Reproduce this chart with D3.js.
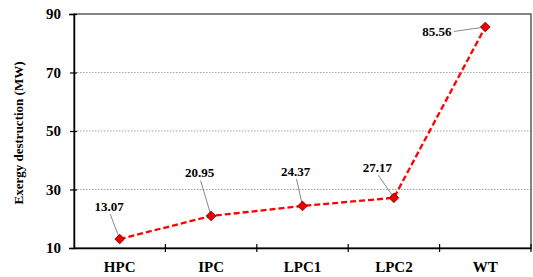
<!DOCTYPE html>
<meta charset="utf-8">
<script src="https://cdn.jsdelivr.net/npm/d3@7"></script>
<style>
body { margin: 0; background: #fff; }
text { font-family: "Liberation Serif", "Times New Roman", serif; font-weight: bold; fill: #000; }
</style>
<body>
<script>

// data
var categories = ["HPC", "IPC", "LPC1", "LPC2", "WT"];
var values = [13.07, 20.95, 24.37, 27.17, 85.56];
var yTicks = [10, 30, 50, 70, 90];
// callout label offsets (dx, dy) from each point
var labelOffsets = [[-10.5, -33], [-11.5, -43.5], [-7, -35], [-16.5, -30.5], [-48.5, 4.5]];

var width = 533, height = 277;
var margin = {top: 14, right: 2, bottom: 29, left: 74};
var serif = '"Liberation Serif", "Times New Roman", serif';

var svg = d3.select("body").append("svg")
    .attr("width", width)
    .attr("height", height);

var x = d3.scaleBand()
    .domain(categories)
    .range([margin.left, width - margin.right]);

var y = d3.scaleLinear()
    .domain([10, 90])
    .range([height - margin.bottom, margin.top]);

// grid lines
svg.append("g")
  .selectAll("line")
  .data(yTicks.filter(function(d) { return d > 10 && d < 90; }))
  .enter().append("line")
    .attr("x1", margin.left)
    .attr("x2", width - margin.right)
    .attr("y1", function(d) { return y(d); })
    .attr("y2", function(d) { return y(d); })
    .style("stroke", "#888")
    .style("stroke-width", 0.8)
    .style("stroke-dasharray", "1.5,1.5");

// plot frame
svg.append("rect")
    .attr("x", margin.left)
    .attr("y", margin.top)
    .attr("width", width - margin.right - margin.left)
    .attr("height", height - margin.bottom - margin.top)
    .style("fill", "none")
    .style("stroke", "#333")
    .style("stroke-width", 1.2);

// y axis
var yAxis = svg.append("g")
    .attr("transform", "translate(" + margin.left + ",0)")
    .call(d3.axisLeft(y).tickValues(yTicks).tickSize(5).tickPadding(8).tickFormat(d3.format("d")));
yAxis.attr("font-family", null);
yAxis.select(".domain").style("stroke", "#000").style("stroke-width", 1.5);
yAxis.selectAll(".tick line").attr("x1", -4).attr("x2", 3).style("stroke", "#000").style("stroke-width", 1.2);
yAxis.selectAll("text").style("font-size", "15px").style("font-family", serif);

// x axis
var xAxis = svg.append("g")
    .attr("transform", "translate(0," + (height - margin.bottom) + ")")
    .call(d3.axisBottom(x).tickSize(0).tickPadding(13));
xAxis.attr("font-family", null);
xAxis.select(".domain").style("stroke", "#000").style("stroke-width", 1.5);
xAxis.selectAll("text").style("font-size", "15px").style("font-family", serif);

// tick marks between categories
svg.append("g")
  .selectAll("line")
  .data(categories)
  .enter().append("line")
    .attr("x1", function(d) { return x(d) + x.bandwidth(); })
    .attr("x2", function(d) { return x(d) + x.bandwidth(); })
    .attr("y1", height - margin.bottom - 4)
    .attr("y2", height - margin.bottom + 4)
    .style("stroke", "#000")
    .style("stroke-width", 1.2);

// y axis title
svg.append("text")
    .attr("transform", "translate(23," + ((margin.top + height - margin.bottom) / 2 + 2) + ") rotate(-90)")
    .attr("text-anchor", "middle")
    .style("font-size", "13px")
    .style("font-family", serif)
    .text("Exergy destruction (MW)");

var cx = function(i) { return x(categories[i]) + x.bandwidth() / 2; };
var lx = function(d, i) { return cx(i) + labelOffsets[i][0]; };
var ly = function(d, i) { return y(d) + labelOffsets[i][1]; };

// the line
var line = d3.line()
    .x(function(d, i) { return cx(i); })
    .y(function(d) { return y(d); });

svg.append("path")
    .datum(values)
    .attr("d", line)
    .style("fill", "none")
    .style("stroke", "#f00")
    .style("stroke-width", 2.3)
    .style("stroke-dasharray", "6,3");

// leader lines
svg.append("g")
  .selectAll("line")
  .data(values)
  .enter().append("line")
    .attr("x1", function(d, i) { return i == 4 ? lx(d, i) + 17 : lx(d, i) + 1; })
    .attr("y1", function(d, i) { return i == 4 ? ly(d, i) : ly(d, i) + 8; })
    .attr("x2", function(d, i) { return cx(i); })
    .attr("y2", function(d) { return y(d); })
    .style("stroke", "#555")
    .style("stroke-width", 0.7);

// markers
svg.append("g")
  .selectAll("path")
  .data(values)
  .enter().append("path")
    .attr("d", d3.symbol().type(d3.symbolDiamond2).size(60))
    .attr("transform", function(d, i) { return "translate(" + cx(i) + "," + y(d) + ")"; })
    .style("fill", "#e00")
    .style("stroke", "#600")
    .style("stroke-width", 0.8);

// value labels
svg.append("g")
  .selectAll("text")
  .data(values)
  .enter().append("text")
    .attr("x", lx)
    .attr("y", ly)
    .attr("text-anchor", "middle")
    .attr("dy", "0.35em")
    .style("font-size", "13px")
    .style("font-family", serif)
    .text(function(d) { return d3.format(".2f")(d); });

</script>
</body>
